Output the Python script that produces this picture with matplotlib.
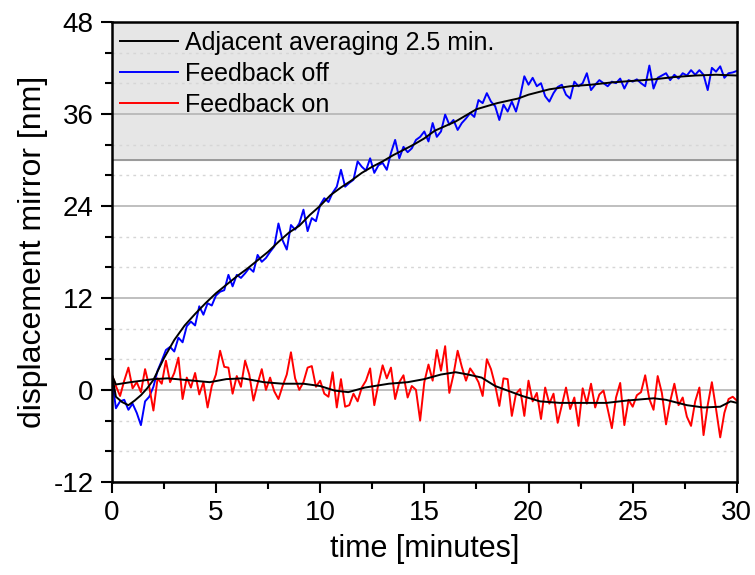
import matplotlib.pyplot as plt
import numpy as np
from matplotlib.ticker import MultipleLocator

plt.rcParams['font.family'] = ['Liberation Sans', 'DejaVu Sans']
plt.rcParams['axes.unicode_minus'] = False

# raw series, sampled every 0.2 min
t_raw = np.arange(0, 30.01, 0.2)
feedback_off = [
    1.7, -2.4, -1.5, -1.3, -2.6, -1.8, -3.0, -4.6, -1.5, -0.9,
    0.4, 2.5, 3.8, 5.2, 5.6, 5.0, 6.8, 6.2, 8.3, 8.9,
    8.4, 10.9, 9.8, 11.3, 11.0, 12.3, 12.8, 13.0, 15.0, 13.5,
    15.0, 14.6, 15.2, 15.9, 15.4, 17.6, 16.7, 17.2, 18.0, 18.7,
    21.7, 19.5, 18.3, 21.5, 20.9, 21.7, 23.5, 20.7, 22.4, 22.0,
    24.1, 25.0, 24.5, 25.7, 26.5, 28.7, 26.5, 27.0, 27.4, 29.8,
    29.1, 28.6, 30.2, 28.3, 29.3, 29.6, 28.7, 30.9, 32.6, 30.2,
    31.7, 31.0, 31.5, 32.6, 33.0, 33.7, 32.4, 34.8, 33.0, 33.7,
    35.9, 34.6, 35.2, 33.9, 34.8, 35.4, 36.1, 35.6, 37.8, 37.4,
    38.7, 37.6, 37.0, 35.2, 37.2, 36.3, 37.6, 36.3, 38.3, 40.9,
    39.8, 40.7, 39.6, 40.0, 38.3, 37.6, 38.7, 39.5, 39.8, 38.5,
    38.0, 40.2, 39.6, 40.0, 41.3, 39.1, 39.8, 40.4, 40.0, 39.6,
    40.2, 40.0, 40.6, 39.3, 40.4, 40.2, 40.5, 40.0, 39.6, 42.3,
    39.3, 40.7, 41.0, 41.3, 40.4, 41.1, 40.6, 41.3, 41.0, 41.7,
    41.1, 41.7, 41.1, 39.1, 42.0, 41.5, 42.2, 40.7, 41.3, 41.4,
    41.6,
]
feedback_on = [
    2.0, 0.5, -0.8, 1.2, 2.9, 0.2, 1.0, -0.3, 2.7, 0.4,
    -2.7, 1.5, 0.8, 3.8, 1.0, 2.2, 4.2, -1.2, 1.6, 0.3,
    2.2, -0.6, 1.0, -2.3, 0.5, 2.0, 5.1, 3.0, 2.9, -0.5,
    1.8, 0.4, 3.8, 2.0, -1.4, 0.8, 2.7, 0.0, 1.6, -0.2,
    -1.2, 0.5, 2.0, 4.9, 1.5, 0.0, 1.0, 2.9, 3.1, 0.4,
    1.2, -0.5, -0.9, 2.3, -2.3, 1.4, -2.2, -2.0, -0.5, -1.5,
    0.3, 1.2, 2.8, -2.0, 0.8, 3.2, 1.5, 2.9, -1.2, 1.0,
    1.9, -1.0, 0.5, 0.0, -4.0, 1.0, 3.3, 1.2, 5.2, 2.5,
    5.7, -0.4, 2.0, 5.1, 3.0, 1.2, 2.8, 2.0, 1.0, -0.8,
    4.0, 2.7, 0.6, -2.1, 1.5, 1.4, -3.4, -0.5, 0.1, -3.4,
    1.2, -1.5, -0.4, -3.8, 0.3, -1.8, -0.5, -4.3, -2.0, 0.3,
    -2.5, -1.0, -4.7, 0.2, -1.8, 0.8, -2.3, -0.6, -0.1, -2.5,
    -5.0, -1.0, 0.9, -4.6, -1.3, -2.2, -0.7, -0.3, 1.9, -1.2,
    -2.6, 1.8, -0.4, -4.5, -1.5, 0.8, -2.0, -1.0, -3.5, -4.7,
    -1.5, 0.3, -5.9, -2.0, 1.0, -2.5, -6.2, -3.0, -1.2, -0.9,
    -1.4,
]

# adjacent averaging (2.5 min) curves
t_avg_off = [0, 0.2, 0.5, 0.8, 1.1, 1.4, 1.7, 2.0, 2.5, 3.0, 3.5, 4.0, 4.5,
             5.0, 5.5, 6.0, 6.5, 7.0, 7.5, 8.0, 8.5, 9.0, 9.5, 10.0, 10.5,
             11.0, 11.5, 12.0, 12.5, 13.0, 13.5, 14.0, 14.5, 15.0, 15.5,
             16.0, 16.5, 17.0, 17.5, 18.0, 18.5, 19.0, 19.5, 20.0, 21, 22,
             23, 24, 25, 26, 27, 28, 29, 30]
avg_off = [2.2, -0.9, -1.6, -2.0, -1.4, -0.7, 0.2, 1.3, 4.1, 6.5, 8.4, 9.9,
           11.3, 12.6, 13.7, 14.8, 15.8, 16.9, 18.0, 19.3, 20.5, 21.4, 22.8,
           24.0, 25.4, 26.4, 27.3, 28.3, 29.1, 29.8, 30.6, 31.3, 32.0, 32.8,
           33.8, 34.4, 35.0, 35.8, 36.6, 37.0, 37.4, 37.7, 38.0, 38.5, 39.2,
           39.6, 39.8, 40.1, 40.3, 40.5, 40.8, 41.0, 41.1, 41.0]
t_avg_on = [0, 0.2, 0.9, 2.0, 2.7, 3.9, 4.7, 5.5, 6.3, 7.3, 8.2, 9.2, 10.0,
            10.7, 11.35, 12.15, 13.3, 14.2, 15.0, 15.8, 16.5, 17.1, 17.75,
            18.4, 19.0, 19.7, 20.55, 21.5, 22.8, 23.75, 24.7, 26.0, 26.6,
            27.6, 28.4, 29.2, 29.7, 30.0]
avg_on = [2.0, 0.7, 1.0, 1.4, 1.5, 1.2, 1.0, 1.4, 1.5, 1.0, 0.8, 0.8, 0.5,
          -0.1, -0.3, 0.3, 0.8, 1.0, 1.4, 2.0, 2.3, 2.0, 1.6, 0.5, -0.1, -0.8,
          -1.5, -1.7, -1.7, -1.7, -1.4, -1.1, -1.3, -2.0, -2.3, -2.2, -1.5,
          -1.7]

fig = plt.figure(figsize=(7.55, 5.75), dpi=100)
ax = fig.add_axes([0.148, 0.162, 0.828, 0.8])

ax.axhspan(30, 48, color='#e6e6e6', zorder=0)
ax.axhline(30, color='#8c8c8c', lw=1.2, zorder=0.5)

ax.plot(t_raw, feedback_off, color='#0000ff', lw=1.4, label='Feedback off', zorder=2)
ax.plot(t_raw, feedback_on, color='#ff0000', lw=1.4, label='Feedback on', zorder=2)
ax.plot(t_avg_off, avg_off, color='black', lw=1.4,
        label='Adjacent averaging 2.5 min.', zorder=3)
ax.plot(t_avg_on, avg_on, color='black', lw=1.4, zorder=3)

ax.set_xlim(0, 30)
ax.set_ylim(-12, 48)
ax.xaxis.set_major_locator(MultipleLocator(5))
ax.xaxis.set_minor_locator(MultipleLocator(2.5))
ax.yaxis.set_major_locator(MultipleLocator(12))
ax.yaxis.set_minor_locator(MultipleLocator(4))

ax.grid(which='major', axis='y', color='#b4b4b4', lw=1.2, zorder=0.6)
ax.grid(which='minor', axis='y', color='#d6d6d6', lw=1.0, ls=(0, (2, 3)), zorder=0.6)
ax.set_axisbelow(True)

ax.tick_params(which='major', direction='out', length=8, width=1.5, labelsize=20,
               top=False, right=False, pad=5)
ax.tick_params(which='minor', direction='out', length=5, width=1.5,
               top=False, right=False)
for s in ax.spines.values():
    s.set_linewidth(1.8)

ax.set_xlabel('time [minutes]', fontsize=22, labelpad=6)
ax.set_ylabel('displacement mirror [nm]', fontsize=23, labelpad=4)

h, l = ax.get_legend_handles_labels()
order = [2, 0, 1]
ax.legend([h[i] for i in order], [l[i] for i in order], loc='upper left',
          frameon=False, fontsize=18, handlelength=2.3, handletextpad=0.3,
          labelspacing=0.28, borderaxespad=0.1, borderpad=0.25)

fig.savefig('out.png', dpi=100)
